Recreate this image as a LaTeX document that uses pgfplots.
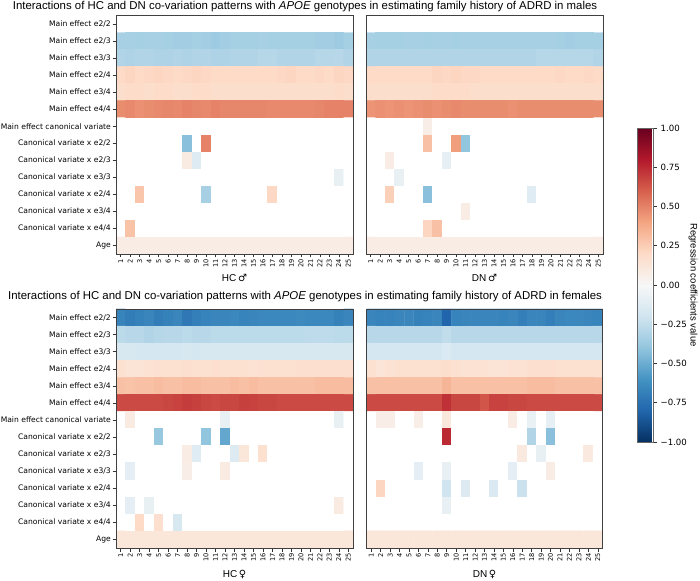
\documentclass[border=0pt]{standalone}
\usepackage{fontspec}
\setmainfont{Liberation Sans}
\newfontfamily\dejavu{DejaVu Sans}
\usepackage{pgfplots}
\usepackage{pgfplotstable}
\pgfplotsset{compat=1.18}

% ---------- data: one value per cell, row by row (14 rows x 25 columns); 0 = empty cell
\pgfplotstableread[row sep=\\, header=false]{
0\\0\\0\\0\\0\\ 0\\0\\0\\0\\0\\ 0\\0\\0\\0\\0\\ 0\\0\\0\\0\\0\\ 0\\0\\0\\0\\0\\
-0.33\\-0.33\\-0.34\\-0.33\\-0.33\\ -0.34\\-0.35\\-0.35\\-0.34\\-0.35\\ -0.36\\-0.35\\-0.34\\-0.34\\-0.34\\ -0.33\\-0.34\\-0.34\\-0.34\\-0.34\\ -0.34\\-0.35\\-0.35\\-0.36\\-0.34\\
-0.30\\-0.31\\-0.30\\-0.30\\-0.31\\ -0.31\\-0.30\\-0.31\\-0.30\\-0.30\\ -0.31\\-0.31\\-0.30\\-0.30\\-0.30\\ -0.29\\-0.29\\-0.30\\-0.30\\-0.30\\ -0.30\\-0.29\\-0.29\\-0.28\\-0.30\\
0.20\\0.22\\0.20\\0.21\\0.22\\ 0.21\\0.20\\0.21\\0.22\\0.21\\ 0.20\\0.20\\0.20\\0.20\\0.20\\ 0.20\\0.20\\0.21\\0.22\\0.20\\ 0.20\\0.21\\0.20\\0.22\\0.21\\
0.18\\0.19\\0.19\\0.18\\0.19\\ 0.19\\0.18\\0.18\\0.19\\0.19\\ 0.18\\0.18\\0.18\\0.18\\0.18\\ 0.18\\0.18\\0.18\\0.18\\0.18\\ 0.18\\0.18\\0.18\\0.19\\0.18\\
0.47\\0.48\\0.46\\0.47\\0.48\\ 0.49\\0.48\\0.50\\0.49\\0.48\\ 0.50\\0.49\\0.49\\0.49\\0.49\\ 0.49\\0.48\\0.48\\0.48\\0.48\\ 0.48\\0.49\\0.50\\0.50\\0.50\\
0\\0\\0\\0\\0\\ 0\\0\\0\\0\\0\\ 0\\0\\0\\0\\0\\ 0\\0\\0\\0\\0\\ 0\\0\\0\\0\\0\\
0\\0\\0\\0\\0\\ 0\\0\\-0.42\\0\\0.50\\ 0\\0\\0\\0\\0\\ 0\\0\\0\\0\\0\\ 0\\0\\0\\0\\0\\
0\\0\\0\\0\\0\\ 0\\0\\0.09\\-0.13\\0\\ 0\\0\\0\\0\\0\\ 0\\0\\0\\0\\0\\ 0\\0\\0\\0\\0\\
0\\0\\0\\0\\0\\ 0\\0\\0\\0\\0\\ 0\\0\\0\\0\\0\\ 0\\0\\0\\0\\0\\ 0\\0\\0\\-0.08\\0\\
0\\0\\0.28\\0\\0\\ 0\\0\\0\\0\\-0.33\\ 0\\0\\0\\0\\0\\ 0\\0.21\\0\\0\\0\\ 0\\0\\0\\0\\0\\
0\\0\\0\\0\\0\\ 0\\0\\0\\0\\0\\ 0\\0\\0\\0\\0\\ 0\\0\\0\\0\\0\\ 0\\0\\0\\0\\0\\
0\\0.29\\0\\0\\0\\ 0\\0\\0\\0\\0\\ 0\\0\\0\\0\\0\\ 0\\0\\0\\0\\0\\ 0\\0\\0\\0\\0\\
0.08\\0.08\\0.08\\0.08\\0.08\\ 0.08\\0.08\\0.08\\0.08\\0.08\\ 0.08\\0.08\\0.08\\0.08\\0.08\\ 0.08\\0.08\\0.08\\0.08\\0.08\\ 0.08\\0.08\\0.08\\0.08\\0.08\\
}\hcmale

\pgfplotstableread[row sep=\\, header=false]{
0\\0\\0\\0\\0\\ 0\\0\\0\\0\\0\\ 0\\0\\0\\0\\0\\ 0\\0\\0\\0\\0\\ 0\\0\\0\\0\\0\\
-0.33\\-0.34\\-0.34\\-0.34\\-0.33\\ -0.33\\-0.34\\-0.33\\-0.33\\-0.34\\ -0.33\\-0.33\\-0.33\\-0.33\\-0.33\\ -0.33\\-0.33\\-0.33\\-0.33\\-0.33\\ -0.34\\-0.35\\-0.34\\-0.34\\-0.34\\
-0.30\\-0.30\\-0.30\\-0.30\\-0.30\\ -0.30\\-0.30\\-0.30\\-0.30\\-0.30\\ -0.30\\-0.30\\-0.30\\-0.30\\-0.30\\ -0.30\\-0.30\\-0.30\\-0.29\\-0.29\\ -0.29\\-0.29\\-0.29\\-0.29\\-0.30\\
0.20\\0.20\\0.20\\0.20\\0.20\\ 0.20\\0.20\\0.22\\0.21\\0.22\\ 0.21\\0.21\\0.20\\0.20\\0.20\\ 0.20\\0.20\\0.20\\0.20\\0.20\\ 0.21\\0.20\\0.20\\0.21\\0.20\\
0.18\\0.18\\0.18\\0.18\\0.18\\ 0.18\\0.18\\0.19\\0.19\\0.19\\ 0.19\\0.18\\0.18\\0.18\\0.18\\ 0.18\\0.18\\0.18\\0.18\\0.18\\ 0.18\\0.18\\0.18\\0.18\\0.18\\
0.45\\0.46\\0.45\\0.46\\0.45\\ 0.46\\0.47\\0.46\\0.47\\0.48\\ 0.47\\0.47\\0.47\\0.47\\0.47\\ 0.46\\0.47\\0.47\\0.47\\0.47\\ 0.47\\0.47\\0.47\\0.47\\0.47\\
0\\0\\0\\0\\0\\ 0\\0.07\\0\\0\\0\\ 0\\0\\0\\0\\0\\ 0\\0\\0\\0\\0\\ 0\\0\\0\\0\\0\\
0\\0\\0\\0\\0\\ 0\\0.30\\0\\0\\0.42\\ -0.40\\0\\0\\0\\0\\ 0\\0\\0\\0\\0\\ 0\\0\\0\\0\\0\\
0\\0\\0.08\\0\\0\\ 0\\0\\0\\-0.09\\0\\ 0\\0\\0\\0\\0\\ 0\\0\\0\\0\\0\\ 0\\0\\0\\0\\0\\
0\\0\\0\\-0.08\\0\\ 0\\0\\0\\0\\0\\ 0\\0\\0\\0\\0\\ 0\\0\\0\\0\\0\\ 0\\0\\0\\0\\0\\
0\\0\\0.24\\0\\0\\ 0\\-0.42\\0\\0\\0\\ 0\\0\\0\\0\\0\\ 0\\0\\-0.12\\0\\0\\ 0\\0\\0\\0\\0\\
0\\0\\0\\0\\0\\ 0\\0\\0\\0\\0\\ 0.08\\0\\0\\0\\0\\ 0\\0\\0\\0\\0\\ 0\\0\\0\\0\\0\\
0\\0\\0\\0\\0\\ 0\\0.22\\0.30\\0\\0\\ 0\\0\\0\\0\\0\\ 0\\0\\0\\0\\0\\ 0\\0\\0\\0\\0\\
0.08\\0.08\\0.08\\0.08\\0.08\\ 0.08\\0.08\\0.08\\0.08\\0.08\\ 0.08\\0.08\\0.08\\0.08\\0.08\\ 0.08\\0.08\\0.08\\0.08\\0.08\\ 0.08\\0.08\\0.08\\0.08\\0.08\\
}\dnmale

\pgfplotstableread[row sep=\\, header=false]{
-0.67\\-0.70\\-0.68\\-0.66\\-0.70\\ -0.68\\-0.66\\-0.72\\-0.69\\-0.67\\ -0.66\\-0.66\\-0.65\\-0.67\\-0.66\\ -0.65\\-0.65\\-0.65\\-0.65\\-0.64\\ -0.65\\-0.65\\-0.65\\-0.68\\-0.66\\
-0.27\\-0.28\\-0.28\\-0.30\\-0.29\\ -0.28\\-0.28\\-0.27\\-0.28\\-0.28\\ -0.27\\-0.27\\-0.27\\-0.27\\-0.27\\ -0.27\\-0.27\\-0.27\\-0.27\\-0.27\\ -0.26\\-0.26\\-0.26\\-0.27\\-0.27\\
-0.17\\-0.17\\-0.18\\-0.18\\-0.18\\ -0.18\\-0.18\\-0.17\\-0.18\\-0.17\\ -0.17\\-0.17\\-0.17\\-0.17\\-0.17\\ -0.17\\-0.17\\-0.17\\-0.17\\-0.17\\ -0.17\\-0.17\\-0.17\\-0.17\\-0.17\\
0.16\\0.14\\0.14\\0.15\\0.16\\ 0.16\\0.16\\0.17\\0.16\\0.16\\ 0.17\\0.16\\0.16\\0.16\\0.15\\ 0.16\\0.16\\0.16\\0.16\\0.17\\ 0.17\\0.17\\0.17\\0.17\\0.17\\
0.30\\0.29\\0.30\\0.30\\0.31\\ 0.30\\0.30\\0.31\\0.31\\0.30\\ 0.30\\0.30\\0.31\\0.30\\0.31\\ 0.30\\0.30\\0.30\\0.30\\0.30\\ 0.30\\0.31\\0.31\\0.31\\0.31\\
0.66\\0.66\\0.66\\0.66\\0.66\\ 0.67\\0.68\\0.70\\0.69\\0.67\\ 0.66\\0.67\\0.67\\0.69\\0.68\\ 0.67\\0.67\\0.66\\0.66\\0.66\\ 0.66\\0.66\\0.66\\0.66\\0.66\\
0\\0.09\\0\\0\\0\\ 0\\0\\0\\0\\0\\ 0\\-0.08\\0\\0\\0\\ 0\\0\\0\\0\\0\\ 0\\0\\0\\-0.08\\0\\
0\\0\\0\\0\\-0.38\\ 0\\0\\0\\0\\-0.40\\ 0\\-0.52\\0\\0\\0\\ 0\\0\\0\\0\\0\\ 0\\0\\0\\0\\0\\
0\\0\\0\\0\\0\\ 0\\0\\0.08\\-0.12\\0\\ 0\\0\\-0.14\\0.12\\0\\ 0.16\\0\\0\\0\\0\\ 0\\0\\0\\0\\0\\
0\\-0.10\\0\\0\\0\\ 0\\0\\0.07\\0\\0\\ 0\\0.09\\0\\0\\0\\ 0\\0\\0\\0\\0\\ 0\\0\\0\\0\\0\\
0\\0\\0\\0\\0\\ 0\\0\\0\\0\\0\\ 0\\0\\0\\0\\0\\ 0\\0\\0\\0\\0\\ 0\\0\\0\\0\\0\\
0\\-0.10\\0\\-0.08\\0\\ 0\\0\\0\\0\\0\\ 0\\0\\0\\0\\0\\ 0\\0\\0\\0\\0\\ 0\\0\\0\\0.09\\0\\
0\\0\\0.20\\0\\0.17\\ 0\\-0.17\\0\\0\\0\\ 0\\0\\0\\0\\0\\ 0\\0\\0\\0\\0\\ 0\\0\\0\\0\\0\\
0.12\\0.12\\0.12\\0.12\\0.12\\ 0.12\\0.12\\0.12\\0.12\\0.12\\ 0.12\\0.12\\0.12\\0.12\\0.12\\ 0.12\\0.12\\0.12\\0.12\\0.12\\ 0.12\\0.12\\0.12\\0.12\\0.12\\
}\hcfemale

\pgfplotstableread[row sep=\\, header=false]{
-0.66\\-0.67\\-0.67\\-0.66\\-0.66\\ -0.68\\-0.67\\-0.66\\-0.80\\-0.67\\ -0.66\\-0.66\\-0.66\\-0.66\\-0.67\\ -0.66\\-0.69\\-0.66\\-0.66\\-0.69\\ -0.66\\-0.65\\-0.65\\-0.66\\-0.67\\
-0.28\\-0.28\\-0.28\\-0.28\\-0.28\\ -0.28\\-0.28\\-0.28\\-0.25\\-0.28\\ -0.28\\-0.28\\-0.28\\-0.28\\-0.28\\ -0.28\\-0.28\\-0.28\\-0.28\\-0.28\\ -0.28\\-0.28\\-0.28\\-0.28\\-0.28\\
-0.18\\-0.18\\-0.18\\-0.18\\-0.18\\ -0.18\\-0.18\\-0.18\\-0.15\\-0.18\\ -0.18\\-0.18\\-0.18\\-0.18\\-0.18\\ -0.18\\-0.18\\-0.18\\-0.18\\-0.18\\ -0.18\\-0.18\\-0.18\\-0.18\\-0.18\\
0.16\\0.13\\0.15\\0.16\\0.16\\ 0.16\\0.16\\0.16\\0.18\\0.16\\ 0.15\\0.15\\0.15\\0.14\\0.14\\ 0.15\\0.15\\0.17\\0.17\\0.17\\ 0.16\\0.16\\0.16\\0.16\\0.16\\
0.30\\0.30\\0.30\\0.30\\0.30\\ 0.30\\0.30\\0.30\\0.34\\0.30\\ 0.30\\0.30\\0.30\\0.30\\0.30\\ 0.30\\0.30\\0.31\\0.31\\0.31\\ 0.30\\0.30\\0.30\\0.30\\0.30\\
0.66\\0.66\\0.66\\0.66\\0.66\\ 0.66\\0.66\\0.66\\0.73\\0.67\\ 0.67\\0.67\\0.63\\0.68\\0.68\\ 0.67\\0.67\\0.66\\0.66\\0.66\\ 0.66\\0.66\\0.66\\0.66\\0.66\\
0\\0.07\\0.07\\0\\0\\ 0.07\\0\\0\\0.11\\0\\ 0\\0\\0\\0\\0\\ 0.08\\0\\-0.07\\0\\-0.09\\ 0\\0\\0\\0\\0\\
0\\0\\0\\0\\0\\ 0\\0\\0\\0.75\\0\\ 0\\0\\0\\0\\0\\ 0\\0\\-0.30\\0\\-0.42\\ 0\\0\\0\\0\\0\\
0\\0\\0\\0\\0\\ 0\\0\\0\\0\\0\\ 0\\0\\0\\0\\0\\ 0\\0.10\\0\\-0.08\\0\\ 0\\0\\0\\0.10\\0\\
0\\0\\0\\0\\0\\ -0.10\\0\\0\\-0.08\\0\\ 0\\0\\0\\0\\0\\ -0.10\\0\\0\\0\\0.08\\ 0\\0\\0\\0\\0\\
0\\0.22\\0\\0\\0\\ 0\\0\\0\\-0.20\\0\\ -0.14\\0\\0\\-0.15\\0\\ 0\\-0.22\\0\\0\\0\\ 0\\0\\0\\0\\0\\
0\\0\\0\\0\\0\\ 0\\0\\0\\-0.08\\0\\ 0\\0\\0\\0\\0\\ 0\\0\\0\\0\\0\\ 0\\0\\0\\0\\0\\
0\\0\\0\\0\\0\\ 0\\0\\0\\0\\0\\ 0\\0\\0\\0\\0\\ 0\\0\\0\\0\\0\\ 0\\0\\0\\0\\0\\
0.12\\0.12\\0.12\\0.12\\0.12\\ 0.12\\0.12\\0.12\\0.12\\0.12\\ 0.12\\0.12\\0.12\\0.12\\0.12\\ 0.12\\0.12\\0.12\\0.12\\0.12\\ 0.12\\0.12\\0.12\\0.12\\0.12\\
}\dnfemale

\pgfplotsset{
  colormap={rdbuw}{rgb255(0cm)=(5,48,97) rgb255(1cm)=(33,102,172) rgb255(2cm)=(67,147,195) rgb255(3cm)=(146,197,222) rgb255(4cm)=(209,229,240) rgb255(4.99cm)=(247,247,247) rgb255(5cm)=(255,255,255) rgb255(5.01cm)=(247,247,247) rgb255(6cm)=(253,219,199) rgb255(7cm)=(244,165,130) rgb255(8cm)=(214,96,77) rgb255(9cm)=(178,24,43) rgb255(10cm)=(103,0,31)},
  hm/.style={
    scale only axis, width=237pt, height=238.5pt,
    xmin=-0.5, xmax=24.5, ymin=-0.5, ymax=13.5, y dir=reverse,
    enlargelimits=false,
    colormap name=rdbuw, point meta min=-1, point meta max=1,
    axis on top, tick align=outside, major tick length=3.5pt,
    xtick pos=bottom, ytick pos=left,
    axis line style={black!75, line width=0.6pt},
    every tick/.style={black!80, line width=0.5pt},
    xtick={0,...,24},
    xticklabels={1,2,3,4,5,6,7,8,9,10,11,12,13,14,15,16,17,18,19,20,21,22,23,24,25},
    xticklabel style={rotate=90, anchor=east, font=\dejavu\fontsize{6.6}{7}\selectfont, inner sep=1.5pt},
    ytick={0,...,13},
    yticklabel style={font=\dejavu\fontsize{7.6}{9}\selectfont, inner sep=1.5pt},
  },
  hmplot/.style={matrix plot*, mesh/cols=25, mesh/rows=14, point meta=explicit},
}
\newcommand{\rowlabels}{Main effect e2/2, Main effect e2/3, Main effect e3/3, Main effect e2/4, Main effect e3/4, Main effect e4/4, Main effect canonical variate, Canonical variate x e2/2, Canonical variate x e2/3, Canonical variate x e3/3, Canonical variate x e2/4, Canonical variate x e3/4, Canonical variate x e4/4, Age}

\begin{document}
\begin{tikzpicture}
\path[use as bounding box] (0,0) rectangle (700pt,580pt);

% HC males
\begin{axis}[hm, at={(116pt,326pt)}, anchor=south west, yticklabels/.expanded={\rowlabels}]
\addplot[hmplot] table[x index=0, y index=0, meta index=0, x expr={mod(\coordindex,25)}, y expr={floor((\coordindex+0.5)/25)}] {\hcmale};
\end{axis}

% DN males
\begin{axis}[hm, at={(366pt,326pt)}, anchor=south west, ytick=\empty]
\addplot[hmplot] table[x index=0, y index=0, meta index=0, x expr={mod(\coordindex,25)}, y expr={floor((\coordindex+0.5)/25)}] {\dnmale};
\end{axis}

% HC females
\begin{axis}[hm, height=239pt, at={(116pt,32pt)}, anchor=south west, yticklabels/.expanded={\rowlabels}]
\addplot[hmplot] table[x index=0, y index=0, meta index=0, x expr={mod(\coordindex,25)}, y expr={floor((\coordindex+0.5)/25)}] {\hcfemale};
\end{axis}

% DN females + colorbar
\begin{axis}[hm, width=236pt, height=239pt, at={(366.5pt,32pt)}, anchor=south west, ytick=\empty,
  colorbar,
  colorbar style={
    scale only axis, width=16pt, height=314pt,
    at={(parent axis.south east)}, anchor=south west, xshift=26.5pt, yshift=106pt,
    ytick={-1,-0.75,-0.5,-0.25,0,0.25,0.5,0.75,1},
    yticklabels={−1.00,−0.75,−0.50,−0.25,0.00,0.25,0.50,0.75,1.00},
    yticklabel style={font=\dejavu\fontsize{8.6}{10}\selectfont},
    ytick pos=right, yticklabel pos=right,
    tick align=outside, major tick length=3.5pt,
    axis line style={black!60, line width=0.4pt},
  }]
\addplot[hmplot] table[x index=0, y index=0, meta index=0, x expr={mod(\coordindex,25)}, y expr={floor((\coordindex+0.5)/25)}] {\dnfemale};
\end{axis}

% titles and labels
\node[font=\fontsize{11.4}{13}\selectfont] at (305pt,573pt) {Interactions of HC and DN co-variation patterns with \textit{APOE} genotypes in estimating family history of ADRD in males};
\node[font=\fontsize{11.4}{13}\selectfont] at (305pt,283pt) {Interactions of HC and DN co-variation patterns with \textit{APOE} genotypes in estimating family history of ADRD in females};
\node[font=\fontsize{10}{12}\selectfont] at (234.5pt,302pt) {HC\,{\dejavu ♂}};
\node[font=\fontsize{10}{12}\selectfont] at (484.5pt,302pt) {DN\,{\dejavu ♂}};
\node[font=\fontsize{10}{12}\selectfont] at (234.5pt,6pt) {HC\,{\dejavu ♀}};
\node[font=\fontsize{10}{12}\selectfont] at (484.5pt,6pt) {DN\,{\dejavu ♀}};
\node[font=\fontsize{9.5}{11}\selectfont, rotate=-90] at (693pt,295pt) {Regression coefficients value};
\end{tikzpicture}
\end{document}
